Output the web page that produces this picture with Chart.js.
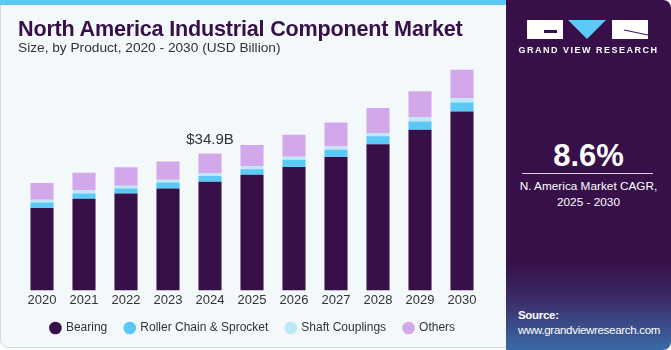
<!DOCTYPE html>
<html>
<head>
<meta charset="utf-8">
<script src="https://cdn.jsdelivr.net/npm/chart.js@4.4.1/dist/chart.umd.min.js"></script>
<style>
  html, body { margin: 0; padding: 0; }
  body { width: 671px; height: 350px; position: relative; overflow: hidden; background: #fff; font-family: "Liberation Sans", Arial, sans-serif; }
  #left { position: absolute; left: 0; top: 0; width: 510px; height: 348px; background: #f3f8fb; border: 1px solid #d5d9dc; border-radius: 0 0 0 8px; box-sizing: border-box; }
  #topbar { position: absolute; left: 0; top: 0; width: 510px; height: 5px; background: #5bc8f5; }
  #title { position: absolute; left: 18px; top: 16px; font-size: 21.6px; font-weight: bold; color: #37104a; letter-spacing: -0.2px; white-space: nowrap; }
  #subtitle { position: absolute; left: 18px; top: 40px; font-size: 13.7px; color: #333; white-space: nowrap; }
  #chartBox { position: absolute; left: 0; top: 0; width: 506px; height: 350px; }
  #panel { position: absolute; left: 506px; top: 0; width: 165px; height: 350px; border-radius: 0 8px 8px 0; overflow: hidden;
    background: linear-gradient(to bottom, #37104a 0%, #37104a 75%, #3a2a66 85%, #3b6aa8 100%); }
  #logo { position: absolute; left: 21px; top: 20px; }
  #gvr { position: absolute; left: 0; width: 165px; top: 45px; text-align: center; color: #fff; font-size: 9px; font-weight: bold; letter-spacing: 1.5px; }
  #cagr { position: absolute; left: 0; width: 165px; top: 138px; text-align: center; color: #fff; font-size: 31px; font-weight: bold; }
  #rule { position: absolute; left: 16px; width: 131px; top: 173px; height: 1px; background: #d9cfe0; }
  #cagrText { position: absolute; left: 0; width: 165px; top: 178px; text-align: center; color: #fff; font-size: 11.8px; line-height: 16px; }
  #source { position: absolute; left: 12px; top: 308px; color: #fff; font-size: 11.5px; line-height: 15px; letter-spacing: -0.3px; }
</style>
</head>
<body>
<div id="left"></div>
<div id="topbar"></div>
<div id="chartBox"><canvas id="chart"></canvas></div>
<div id="title">North America Industrial Component Market</div>
<div id="subtitle">Size, by Product, 2020 - 2030 (USD Billion)</div>
<div id="panel">
  <svg id="logo" width="122" height="19" viewBox="0 0 122 19">
    <path d="M0 0 H36 V19 H0 Z M17 10 V13 H30 V10 Z" fill="#fff" fill-rule="evenodd"/>
    <path d="M41 0 H79 L60 19 Z" fill="#5bc8f5"/>
    <path d="M85 0 H121 V19 H85 Z" fill="#fff"/>
    <path d="M97 10 L121 15" stroke="#37104a" stroke-width="1"/>
  </svg>
  <div id="gvr">GRAND VIEW RESEARCH</div>
  <div id="cagr">8.6%</div>
  <div id="rule"></div>
  <div id="cagrText">N. America Market CAGR,<br>2025 - 2030</div>
  <div id="source"><b>Source:</b><br>www.grandviewresearch.com</div>
</div>
<script>
const years = ['2020', '2021', '2022', '2023', '2024', '2025', '2026', '2027', '2028', '2029', '2030'];
const bearing = [21.0, 23.4, 24.7, 26.0, 27.7, 29.5, 31.5, 34.0, 37.3, 41.0, 45.6];
const rollerChain = [1.4, 1.3, 1.3, 1.5, 1.5, 1.4, 1.8, 1.9, 2.0, 2.1, 2.3];
const shaftCouplings = [0.7, 0.9, 0.7, 0.7, 0.7, 0.8, 0.8, 0.8, 0.8, 1.1, 1.1];
const others = [4.3, 4.4, 4.7, 4.7, 5.0, 5.4, 5.6, 6.1, 6.4, 6.6, 7.3];
const calloutIndex = 4;
const calloutText = '$34.9B';

const font = '"Liberation Sans", Arial, sans-serif';

const calloutPlugin = {
  id: 'callout',
  afterDatasetsDraw(chart) {
    const { ctx, scales } = chart;
    const total = bearing[calloutIndex] + rollerChain[calloutIndex] + shaftCouplings[calloutIndex] + others[calloutIndex];
    const x = scales.x.getPixelForValue(calloutIndex);
    const y = scales.y.getPixelForValue(total);
    ctx.save();
    ctx.font = '15px ' + font;
    ctx.fillStyle = '#333';
    ctx.textAlign = 'center';
    ctx.textBaseline = 'alphabetic';
    ctx.fillText(calloutText, x, y - 10);
    ctx.restore();
  }
};

// pull the legend a little closer to the year labels
const legendNudge = {
  id: 'legendNudge',
  afterLayout(chart) {
    if (!chart.legend) return;
    chart.legend.top -= 6;
    chart.legend.bottom -= 6;
  }
};

// invisible side axes only reserve room so the bars line up
const spacer = (width, position) => ({
  position,
  display: true,
  grid: { display: false },
  border: { display: false },
  ticks: { display: false },
  afterFit(scale) { scale.width = width; }
});

new Chart(document.getElementById('chart'), {
  type: 'bar',
  data: {
    labels: years,
    datasets: [
      { label: 'Bearing', data: bearing, backgroundColor: '#37104a' },
      { label: 'Roller Chain & Sprocket', data: rollerChain, backgroundColor: '#5bc8f5' },
      { label: 'Shaft Couplings', data: shaftCouplings, backgroundColor: '#bde8f8' },
      { label: 'Others', data: others, backgroundColor: '#d3a8ea' }
    ]
  },
  options: {
    responsive: true,
    maintainAspectRatio: false,
    animation: false,
    layout: { padding: { left: 0, right: 0, top: 63, bottom: 0 } },
    datasets: { bar: { categoryPercentage: 0.55, barPercentage: 1 } },
    scales: {
      x: {
        stacked: true,
        grid: { display: false, drawTicks: false },
        border: { display: false },
        ticks: { color: '#333', font: { size: 13, family: font }, padding: 2 }
      },
      y: Object.assign(spacer(21, 'left'), { stacked: true, min: 0, max: 58 }),
      yRight: Object.assign(spacer(23, 'right'), { type: 'linear', min: 0, max: 58 })
    },
    plugins: {
      legend: {
        position: 'bottom',
        labels: {
          usePointStyle: true,
          pointStyle: 'circle',
          boxWidth: 9,
          boxHeight: 9,
          padding: 18,
          color: '#333',
          font: { size: 12, family: font }
        }
      },
      tooltip: { enabled: false }
    }
  },
  plugins: [calloutPlugin, legendNudge]
});
</script>
</body>
</html>
